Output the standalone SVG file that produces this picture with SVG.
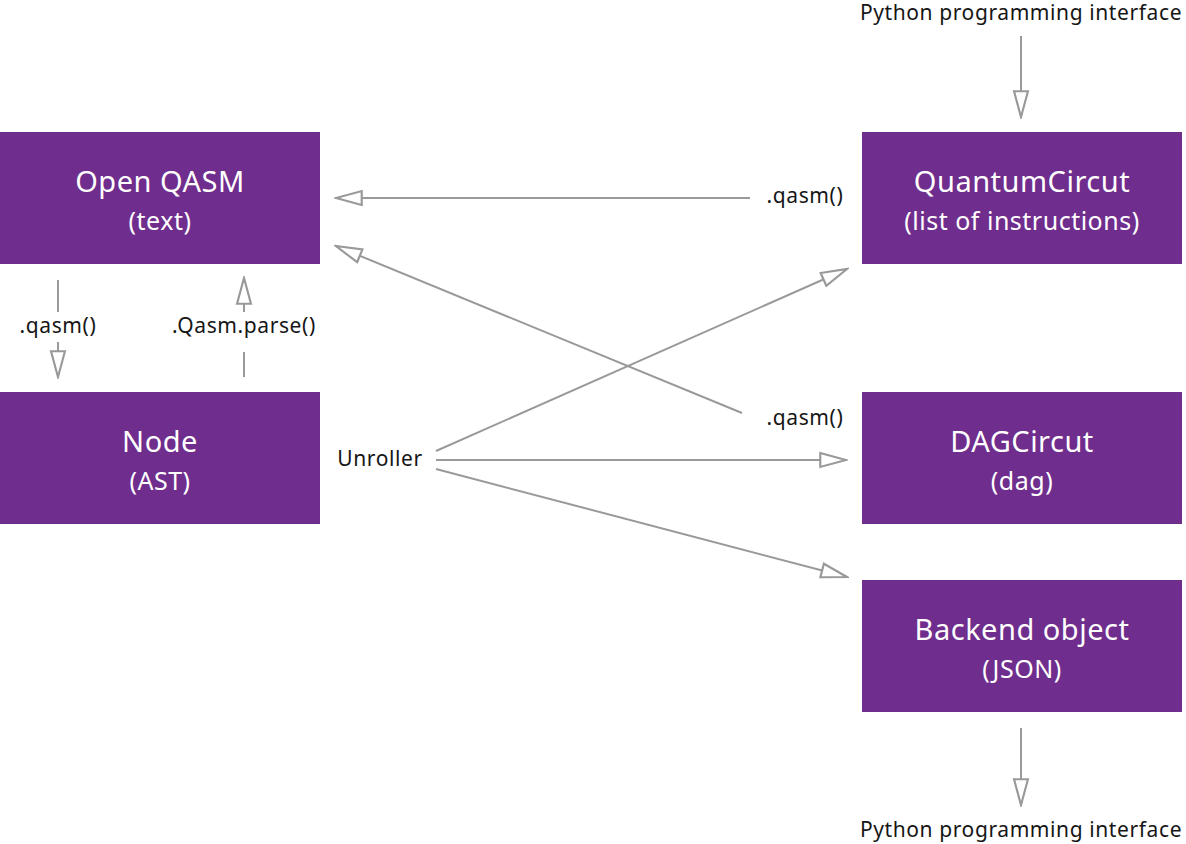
<svg xmlns="http://www.w3.org/2000/svg" width="1186" height="844" viewBox="0 0 1186 844">
<style>
.box{fill:#6f2d8d}
.t{font-family:"Noto Sans","Open Sans",sans-serif;fill:#ffffff;text-anchor:middle}
.t1{font-size:29px;letter-spacing:0.5px}
.t2{font-size:25px;letter-spacing:0.5px}
.lbl{font-family:"Noto Sans","Open Sans",sans-serif;font-size:21px;letter-spacing:0.6px;fill:#161616;text-anchor:middle}
.c{stroke:#999999;stroke-width:2;fill:none}
</style>
<defs>
<marker id="ah" markerUnits="userSpaceOnUse" markerWidth="30" markerHeight="20" refX="24" refY="6.5" orient="auto" viewBox="-2 -2 28 17">
<path d="M0,0 L24,6.5 L0,13 Z" fill="#ffffff" stroke="#999999" stroke-width="2"/>
</marker>
</defs>
<rect width="1186" height="844" fill="#ffffff"/>
<g id="connectors">
<line class="c" x1="750" y1="198" x2="336" y2="198" marker-end="url(#ah)"/>
<line class="c" x1="742" y1="413" x2="336" y2="246" marker-end="url(#ah)"/>
<line class="c" x1="436" y1="451" x2="847" y2="269" marker-end="url(#ah)"/>
<line class="c" x1="436" y1="460" x2="846" y2="460" marker-end="url(#ah)"/>
<line class="c" x1="436" y1="469" x2="847" y2="577" marker-end="url(#ah)"/>
<line class="c" x1="58" y1="280" x2="58" y2="312"/>
<line class="c" x1="58" y1="342" x2="58" y2="377" marker-end="url(#ah)"/>
<line class="c" x1="244" y1="377" x2="244" y2="352"/>
<line class="c" x1="244" y1="312" x2="244" y2="278" marker-end="url(#ah)"/>
<line class="c" x1="1021" y1="36" x2="1021" y2="117" marker-end="url(#ah)"/>
<line class="c" x1="1021" y1="728" x2="1021" y2="805" marker-end="url(#ah)"/>
<text class="lbl" x="805" y="203">.qasm()</text>
<text class="lbl" x="805" y="425">.qasm()</text>
<text class="lbl" x="58" y="333">.qasm()</text>
<text class="lbl" x="244" y="333">.Qasm.parse()</text>
<text class="lbl" x="380" y="466">Unroller</text>
<text class="lbl" x="1021" y="20">Python programming interface</text>
<text class="lbl" x="1021" y="837">Python programming interface</text>
</g>
<g id="openqasm">
<rect class="box" x="0" y="132" width="320" height="132"/>
<text class="t t1" x="160" y="192">Open QASM</text>
<text class="t t2" x="160" y="230">(text)</text>
</g>
<g id="node">
<rect class="box" x="0" y="392" width="320" height="132"/>
<text class="t t1" x="160" y="452">Node</text>
<text class="t t2" x="160" y="490">(AST)</text>
</g>
<g id="quantumcircuit">
<rect class="box" x="862" y="132" width="320" height="132"/>
<text class="t t1" x="1022" y="192">QuantumCircut</text>
<text class="t t2" x="1022" y="230">(list of instructions)</text>
</g>
<g id="dagcircuit">
<rect class="box" x="862" y="392" width="320" height="132"/>
<text class="t t1" x="1022" y="452">DAGCircut</text>
<text class="t t2" x="1022" y="490">(dag)</text>
</g>
<g id="backend">
<rect class="box" x="862" y="580" width="320" height="132"/>
<text class="t t1" x="1022" y="640">Backend object</text>
<text class="t t2" x="1022" y="678">(JSON)</text>
</g>
</svg>
